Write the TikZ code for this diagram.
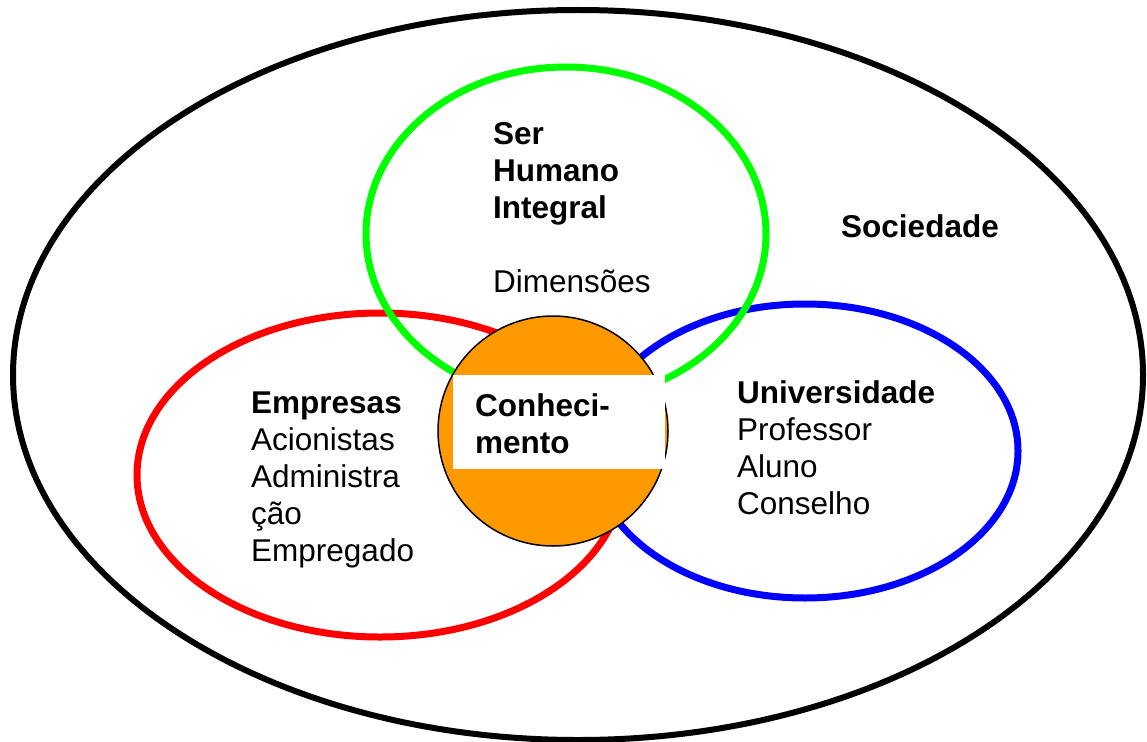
\documentclass[tikz,border=0pt]{standalone}
\usepackage{fontspec}
\setmainfont{Liberation Sans}
\usetikzlibrary{shapes.geometric}

\definecolor{laranja}{RGB}{255,153,0}

\begin{document}
\begin{tikzpicture}
        [x=1pt, y=-1pt,
         ring/.style={
             draw,
             ellipse,
             line width=7pt,
             inner sep=0pt
         },
         txt/.style={
             anchor=base west,
             align=left,
             inner sep=0pt,
             font=\fontsize{31.5}{37}\selectfont
         }
         ]
        \useasboundingbox (0,0) rectangle (1147,741);
        \node[ring, line width=6pt, minimum width=1130pt, minimum height=730pt] (sociedade) at (578,375) {};
        \node[ring, red, minimum width=486pt, minimum height=324pt] (empresas) at (380,475) {};
        \node[ring, blue, minimum width=426pt, minimum height=294pt] (universidade) at (805,451) {};
        \node[ring, green, minimum width=400pt, minimum height=334pt] (humano) at (566,234) {};
        \node[circle, draw, fill=laranja, line width=1.5pt, minimum size=230pt, inner sep=0pt] (nucleo) at (553,431) {};
        \node[fill=white, minimum width=212pt, minimum height=94pt, inner sep=0pt] (caixa) at (559,422) {};

        % base west = baseline of the last line
        \node[txt] (conhecimento) at (475,453) {\textbf{Conheci-}\\\textbf{mento}};
        \node[txt] (ser) at (493,292) {\textbf{Ser}\\\textbf{Humano}\\\textbf{Integral}\\[37pt]Dimensões};
        \node[txt] (soc) at (841,237) {\textbf{Sociedade}};
        \node[txt] (emp) at (251,561) {\textbf{Empresas}\\Acionistas\\Administra\\ção\\Empregado};
        \node[txt] (univ) at (737,514) {\textbf{Universidade}\\Professor\\Aluno\\Conselho};
    \end{tikzpicture}
\end{document}
